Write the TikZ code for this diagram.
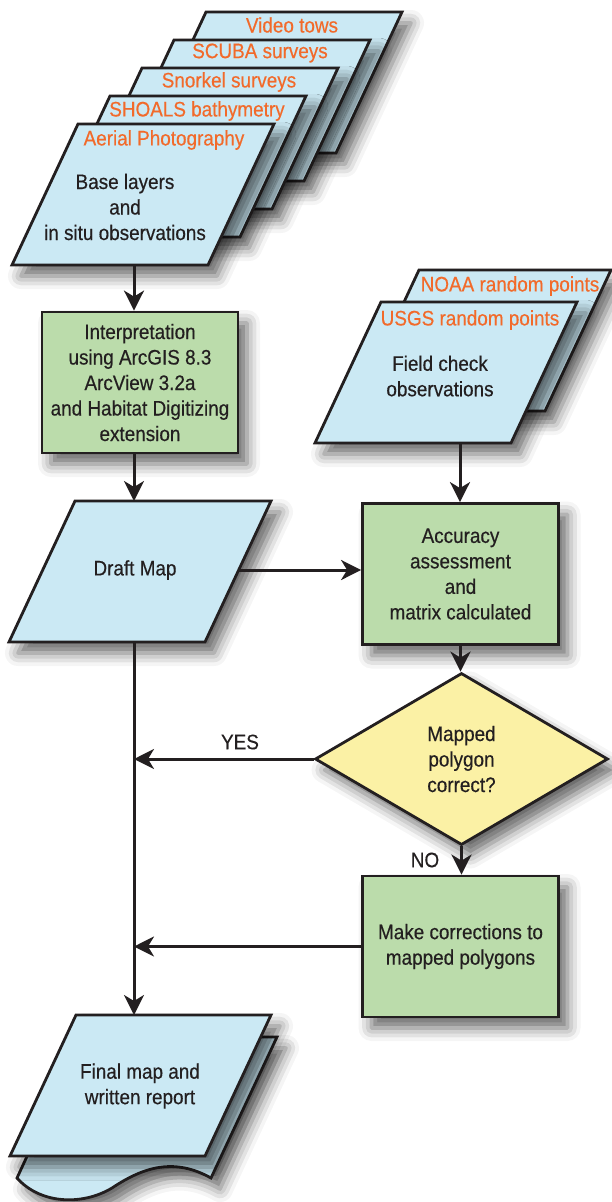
\documentclass[tikz,border=0pt]{standalone}
\usepackage{fontspec}
\setmainfont{Liberation Sans}[FakeStretch=0.9,FakeBold=0.4]
\usetikzlibrary{arrows.meta,shapes.geometric,shadows.blur}
\definecolor{pblue}{HTML}{CBE9F4}
\definecolor{pgreen}{HTML}{BBDCAB}
\definecolor{pyellow}{HTML}{FBF1A5}
\definecolor{porange}{HTML}{F26A2A}
\definecolor{ink}{HTML}{231F20}
\tikzset{
  shad/.style={blur shadow={shadow xshift=9pt, shadow yshift=-11pt, shadow blur radius=13pt, shadow opacity=60}},
  sheet/.style={draw=ink, line width=2.8pt, line join=miter, fill=pblue, shad},
  txt/.style={text=ink, font=\fontsize{21}{25.5}\selectfont, align=center},
  lbl/.style={text=porange, font=\fontsize{21}{24}\selectfont},
  procbox/.style={draw=ink, line width=2.8pt, fill=pgreen, shad, minimum width=196pt, minimum height=141pt, inner sep=0pt, txt},
  decbox/.style={diamond, draw=ink, line width=2.8pt, fill=pyellow, shad, minimum width=293pt, minimum height=172pt, inner sep=0pt, aspect=1.7, txt},
  conn/.style={draw=ink, line width=3pt, -{Stealth[length=20pt,width=20pt,inset=6pt]}},
}
\newcommand{\pgram}[4][]{\path[sheet,#1] (#2,#3) -- ++(#4,0) -- ++(66,-141) -- ++(-#4,0) -- cycle;}
\begin{document}
\begin{tikzpicture}[x=1pt,y=-1pt]
\useasboundingbox (0,0) rectangle (611,1202);

% ---------- top stack ----------
\pgram{140}{153}{196}
\pgram{108}{181}{196}
\pgram{76}{209}{196}
\pgram{44}{237}{196}
\pgram{12}{265}{196}
\node[lbl] (video) at (292,25) {Video tows};
\node[lbl] (scuba) at (260,53) {SCUBA surveys};
\node[lbl] (snork) at (229,82) {Snorkel surveys};
\node[lbl] (shoals) at (197,111) {SHOALS bathymetry};
\node[lbl] (aerial) at (164,140) {Aerial Photography};
\node[txt] (base) at (125,207) {Base layers\\and\\in situ observations};
\coordinate (basebot) at (134,265);

% ---------- right stack ----------
\pgram{353}{411}{192}
\pgram{315}{443}{196}
\node[lbl] (noaa) at (510,286) {NOAA random points};
\node[lbl] (usgs) at (470,320) {USGS random points};
\node[txt] (field) at (440,376) {Field check\\observations};
\coordinate (usgsbot) at (460,443);

% ---------- interpretation ----------
\node[procbox] (interp) at (140,382.5) {Interpretation\\using ArcGIS 8.3\\ArcView 3.2a\\and Habitat Digitizing\\extension};

% ---------- draft map ----------
\pgram{9}{642}{196}
\node[txt] (draft) at (135,570) {Draft Map};
\coordinate (drafttop) at (134,501);
\coordinate (draftright) at (239,570);
\coordinate (draftbot) at (134,642);

% ---------- accuracy / decision / fix ----------
\node[procbox] (acc) at (460.5,574) {Accuracy\\assessment\\and\\matrix calculated};
\node[decbox] (dec) at (461.5,759) {Mapped\\polygon\\correct?};
\node[procbox] (fix) at (460.5,946.5) {Make corrections to\\mapped polygons};

% ---------- final map ----------
\path[sheet] (82,1037) -- (277,1037) -- (211,1178)
  .. controls (175,1158) and (145,1166) .. (112,1188)
  .. controls (82,1206) and (40,1204) .. (17,1178) -- cycle;
\pgram{10}{1156}{195}
\node[txt] (final) at (140,1086) {Final map and\\written report};
\coordinate (finaltop) at (134,1015);

% ---------- connectors ----------
\draw[conn] (basebot) -- (basebot |- interp.north);
\draw[conn] (interp.south -| basebot) -- (drafttop);
\draw[conn] (draftright) -- (acc.west |- draftright);
\draw[conn] (usgsbot) -- (usgsbot |- acc.north);
\draw[conn] (acc.south) -- (acc.south |- dec.north);
\draw[conn] (dec.south) -- (dec.south |- fix.north);
\draw[conn] (dec.west) -- (dec.west -| draftbot);
\draw[conn] (fix.west) -- (fix.west -| draftbot);
\draw[conn] (draftbot) -- (finaltop);

\node[txt] (yes) at (240,742) {YES};
\node[txt] (no) at (425,860) {NO};
\end{tikzpicture}
\end{document}
